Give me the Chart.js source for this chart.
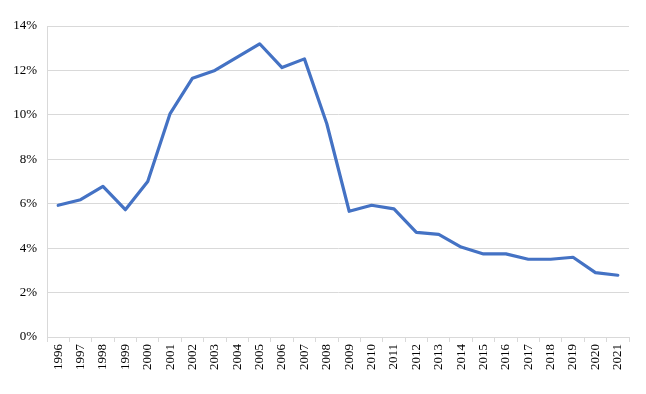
<!DOCTYPE html>
<html>
<head>
<meta charset="utf-8">
<script src="https://cdn.jsdelivr.net/npm/chart.js@4/dist/chart.umd.min.js"></script>
<style>
  html, body { margin: 0; padding: 0; background: #fff; }
  #wrap { width: 646px; height: 394px; }
</style>
</head>
<body>
<div id="wrap"><canvas id="mainChart" width="646" height="394"></canvas></div>
<script>
// Data
const years = ['1996', '1997', '1998', '1999', '2000', '2001', '2002', '2003', '2004', '2005', '2006', '2007', '2008',
               '2009', '2010', '2011', '2012', '2013', '2014', '2015', '2016', '2017', '2018', '2019', '2020', '2021'];
const rates = [5.93, 6.18, 6.78, 5.73, 7.0, 10.06, 11.65, 12.0, 12.6, 13.2, 12.13, 12.52, 9.6,
               5.66, 5.93, 5.77, 4.71, 4.62, 4.05, 3.74, 3.74, 3.5, 3.5, 3.59, 2.9, 2.78];
const yTicks = [0, 2, 4, 6, 8, 10, 12, 14];

const gridColor = '#d9d9d9';
const font = { family: '"Liberation Serif", "Times New Roman", serif', size: 13 };

const ctx = document.getElementById('mainChart').getContext('2d');
const mainChart = new Chart(ctx, {
    type: 'line',
    data: {
        labels: years,
        datasets: [{
            data: rates,
            borderColor: '#4472C4',
            borderWidth: 3.2,
            pointRadius: 0,
            tension: 0,
            borderJoinStyle: 'round',
            borderCapStyle: 'round',
            fill: false
        }]
    },
    options: {
        responsive: false,
        animation: false,
        layout: { padding: { top: 26, right: 17, bottom: 0, left: 0 } },
        plugins: {
            legend: { display: false },
            tooltip: { enabled: false }
        },
        scales: {
            x: {
                offset: true,
                grid: {
                    offset: true,
                    drawOnChartArea: false,
                    color: gridColor,
                    tickLength: 5
                },
                border: { display: true, color: gridColor },
                ticks: {
                    color: '#000',
                    font: font,
                    minRotation: 90,
                    maxRotation: 90,
                    autoSkip: false,
                    padding: 2
                },
                afterFit: function(scale) { scale.height = 57; }
            },
            y: {
                min: 0,
                max: 14,
                afterBuildTicks: function(scale) {
                    scale.ticks = yTicks.map(v => ({ value: v }));
                },
                grid: { color: gridColor, drawTicks: false },
                border: { display: true, color: gridColor },
                ticks: {
                    color: '#000',
                    font: font,
                    padding: 10,
                    callback: v => v + '%'
                },
                afterFit: function(scale) { scale.width = 47; }
            }
        }
    }
});
</script>
</body>
</html>
